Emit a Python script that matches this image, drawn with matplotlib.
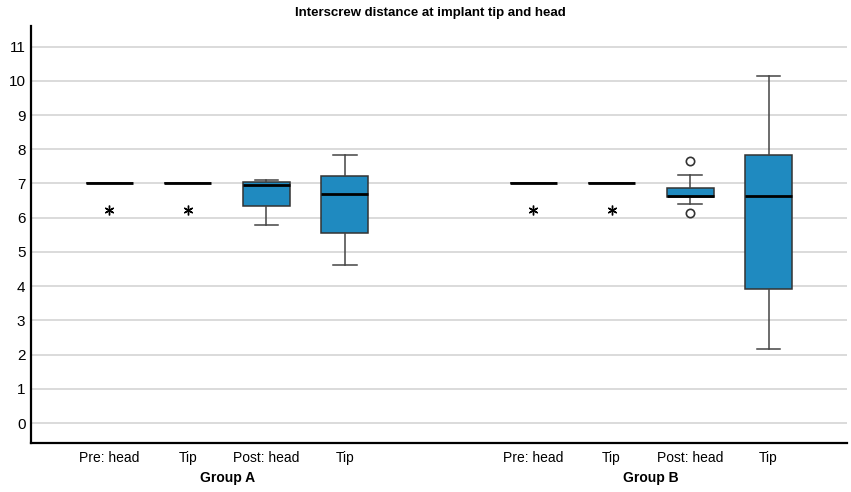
import matplotlib
matplotlib.use("Agg")
import matplotlib.pyplot as plt

plt.rcParams['font.family'] = ['Liberation Sans', 'DejaVu Sans']

# ---- data ----
labels = ['Pre: head', 'Tip', 'Post: head', 'Tip',
          'Pre: head', 'Tip', 'Post: head', 'Tip']
groups = ['Group A', 'Group B']
positions = [1, 2, 3, 4, 6.4, 7.4, 8.4, 9.4]

whislo = [7.0, 7.0, 5.80, 4.62, 7.0, 7.0, 6.39, 2.16]
q1 = [7.0, 7.0, 6.34, 5.56, 7.0, 7.0, 6.60, 3.93]
med = [7.0, 7.0, 6.96, 6.69, 7.0, 7.0, 6.63, 6.62]
q3 = [7.0, 7.0, 7.05, 7.21, 7.0, 7.0, 6.88, 7.83]
whishi = [7.0, 7.0, 7.10, 7.84, 7.0, 7.0, 7.25, 10.13]

# extreme values (asterisks) and outliers (circles)
extremes = [[6.22], [6.22], [], [], [6.22], [6.22], [], []]
outliers = [[], [], [], [], [], [], [7.65, 6.13], []]

stats = []
for i in range(len(labels)):
    stats.append(dict(whislo=whislo[i], q1=q1[i], med=med[i], q3=q3[i],
                      whishi=whishi[i], fliers=[], label=labels[i]))

fig = plt.figure(figsize=(8.51, 4.92), dpi=100)
ax = fig.add_axes([31 / 851, 1 - 443 / 492, (847 - 31) / 851, (443 - 26) / 492])

ax.bxp(stats, positions=positions, widths=0.6, patch_artist=True,
       showfliers=False,
       boxprops=dict(facecolor='#1f8ac0', edgecolor='#333333', linewidth=1.1),
       medianprops=dict(color='black', linewidth=2.0),
       whiskerprops=dict(color='#444444', linewidth=1.1),
       capprops=dict(color='#444444', linewidth=1.1),
       zorder=3)

for i, p in enumerate(positions):
    for v in extremes[i]:
        ax.plot(p, v, marker=(6, 2, 0), markersize=7, color='black',
                markeredgewidth=1.0, linestyle='none', zorder=4)
    for v in outliers[i]:
        ax.plot(p, v, marker='o', markersize=6, markerfacecolor='white',
                markeredgecolor='#333333', markeredgewidth=1.2,
                linestyle='none', zorder=4)

ax.set_xlim(0, 10.4)
ax.set_ylim(-0.58, 11.6)
ax.set_yticks(range(0, 12))
ax.set_xticks(positions)
ax.set_xticklabels(labels, fontsize=10)
ax.tick_params(axis='y', labelsize=11, length=0, pad=4)
ax.tick_params(axis='x', length=0, pad=6)

ax.yaxis.grid(True, color='#d4d4d4', linewidth=1.2, zorder=0)
ax.set_axisbelow(True)
for s in ['top', 'right']:
    ax.spines[s].set_visible(False)
ax.spines['left'].set_linewidth(1.6)
ax.spines['bottom'].set_linewidth(1.6)

# group labels below the category labels
ax.text((positions[0] + positions[3]) / 2, -0.085, groups[0],
        transform=ax.get_xaxis_transform(), ha='center', va='center',
        fontsize=10, fontweight='bold')
ax.text((positions[4] + positions[7]) / 2, -0.085, groups[1],
        transform=ax.get_xaxis_transform(), ha='center', va='center',
        fontsize=10, fontweight='bold')

fig.text(430 / 851, 1 - 13 / 492, 'Interscrew distance at implant tip and head',
         ha='center', va='center', fontsize=9.5, fontweight='bold')

fig.savefig('out.png', dpi=100)
